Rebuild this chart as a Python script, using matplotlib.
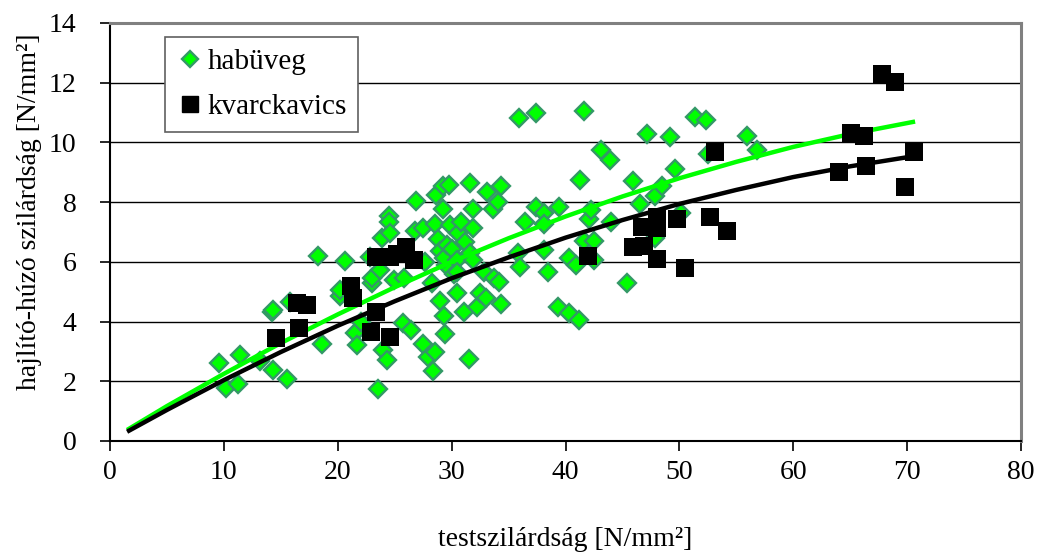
import matplotlib
matplotlib.use("Agg")
import matplotlib.pyplot as plt
from matplotlib.lines import Line2D

# ---------------- data ----------------
hab_x = [9.6, 10.2, 11.2, 11.4, 13.2, 14.2, 14.3, 14.3, 15.5, 15.8, 18.3, 18.6,
         20.2, 20.2, 20.6, 21.5, 21.7, 22.0, 22.8, 23.0, 23.0, 23.5, 23.7, 23.9,
         24.0, 24.3, 24.5, 24.5, 24.6, 24.9, 25.7, 26.4, 25.8, 26.9, 26.8, 27.5,
         27.5, 27.9, 28.5, 28.4, 28.3, 27.7, 28.6, 28.5, 28.8, 29.0, 29.2, 29.2,
         29.4, 29.3, 29.0, 29.5, 29.3, 29.6, 29.8, 29.9, 30.0, 30.2, 30.5, 30.5,
         30.5, 30.6, 30.8, 31.1, 31.2, 31.5, 31.6, 31.6, 31.9, 31.9, 31.9, 32.2,
         32.5, 32.8, 33.0, 33.1, 33.6, 33.7, 34.1, 34.2, 34.3, 34.3, 35.8, 35.9,
         36.0, 36.4, 37.4, 37.4, 38.1, 38.1, 38.1, 38.5, 39.3, 39.4, 40.3, 40.3,
         40.9, 41.2, 41.3, 41.6, 41.6, 42.1, 42.2, 42.5, 42.5, 43.1, 43.9, 44.0,
         45.4, 45.9, 46.5, 47.2, 47.9, 47.9, 48.5, 49.2, 49.6, 50.1, 51.4, 52.3,
         52.5, 55.9, 56.8]
hab_y = [2.60, 1.78, 1.91, 2.88, 2.68, 4.32, 4.40, 2.38, 2.07, 4.67, 6.20, 3.25,
         4.85, 5.06, 6.04, 3.61, 3.21, 4.00, 6.17, 5.28, 5.45, 1.75, 5.73, 6.79,
         3.05, 2.72, 7.52, 7.34, 6.95, 5.40, 3.94, 3.73, 5.45, 8.05, 7.05, 7.12,
         3.25, 2.82, 2.99, 2.34, 5.28, 6.00, 8.25, 7.26, 6.75, 6.35, 8.55, 7.76,
         3.58, 4.20, 4.70, 5.89, 6.12, 6.56, 8.57, 7.23, 6.42, 5.60, 4.95, 6.06,
         5.67, 6.98, 7.34, 4.32, 6.65, 2.74, 8.65, 6.28, 7.14, 7.78, 6.06, 4.50,
         4.95, 5.67, 4.80, 8.35, 7.78, 5.45, 8.01, 5.33, 8.54, 4.58, 6.28, 10.81,
         5.83, 7.34, 11.00, 7.84, 7.62, 7.27, 6.40, 5.66, 4.50, 7.84, 6.14, 4.28,
         5.89, 4.05, 8.74, 11.05, 6.70, 7.45, 7.74, 6.70, 6.06, 9.75, 9.40, 7.33,
         5.28, 8.72, 7.95, 10.29, 8.19, 6.79, 8.55, 10.18, 9.12, 7.63, 10.84, 10.74,
         9.61, 10.21, 9.73]

kvarc_x = [14.6, 16.4, 17.3, 16.6, 21.2, 21.3, 22.9, 23.4, 24.6, 23.4, 24.6, 25.2,
           26.0, 26.7, 42.0, 45.9, 46.9, 46.7, 48.0, 48.0, 48.0, 49.8, 50.5, 52.7,
           53.1, 54.2, 64.0, 65.1, 66.2, 66.4, 67.8, 68.9, 69.8, 70.6]
kvarc_y = [3.44, 4.63, 4.56, 3.77, 5.20, 4.80, 3.66, 4.33, 3.49, 6.15, 6.15, 6.25,
           6.49, 6.06, 6.20, 6.51, 6.54, 7.18, 7.51, 7.12, 6.08, 7.43, 5.78, 7.49,
           9.69, 7.03, 9.00, 10.32, 10.21, 9.21, 12.29, 12.03, 8.52, 9.69]

# trend lines
hab_trend_x = [1.5, 5, 10, 15, 20, 25, 30, 35, 40, 45, 50, 55, 60, 65, 70.7]
hab_trend_y = [0.37, 1.17, 2.25, 3.28, 4.24, 5.15, 6.00, 6.79, 7.52, 8.19, 8.80,
               9.35, 9.85, 10.28, 10.70]
kvarc_trend_x = [1.5, 5, 10, 15, 20, 25, 30, 35, 40, 45, 50, 55, 60, 65, 70.6]
kvarc_trend_y = [0.31, 1.04, 2.04, 2.98, 3.86, 4.68, 5.45, 6.15, 6.81, 7.40, 7.94,
                 8.41, 8.84, 9.20, 9.54]

labels = ["habüveg", "kvarckavics"]
x_ticks = [0, 10, 20, 30, 40, 50, 60, 70, 80]
y_ticks = [0, 2, 4, 6, 8, 10, 12, 14]
x_label = "testszilárdság [N/mm²]"
y_label = "hajlító-húzó szilárdság [N/mm²]"

# ---------------- style ----------------
plt.rcParams['font.family'] = ['Liberation Serif', 'DejaVu Serif']
FS = 20
GREEN = '#00FF00'
GREEN_EDGE = '#339966'

fig = plt.figure(figsize=(10.39, 5.56), dpi=100)
ax = fig.add_axes([110 / 1039, 1 - 441 / 556, 911 / 1039, 418 / 556])

ax.set_xlim(0, 80)
ax.set_ylim(0, 14)

for yv in y_ticks[1:-1]:
    ax.axhline(yv, color='black', lw=1.0, zorder=1)

ax.plot(hab_x, hab_y, linestyle='none', marker='D', ms=9.2, mfc=GREEN,
        mec=GREEN_EDGE, mew=1.7, zorder=2)
ax.plot(hab_trend_x, hab_trend_y, color=GREEN, lw=3.2, zorder=3,
        solid_capstyle='butt')
ax.plot(kvarc_trend_x, kvarc_trend_y, color='black', lw=3.2, zorder=3,
        solid_capstyle='butt')
ax.plot(kvarc_x, kvarc_y, linestyle='none', marker='s', ms=13, mfc='black',
        mec='black', mew=0, zorder=4)

ax.set_xticks(x_ticks)
ax.set_yticks(y_ticks)
ax.set_xticklabels([str(v) for v in x_ticks], fontsize=FS)
ax.set_yticklabels([str(v) for v in y_ticks], fontsize=FS)
ax.tick_params(axis='x', direction='out', length=7, width=1.2, pad=7,
               colors='black')
ax.tick_params(axis='y', direction='out', length=7, width=1.2, pad=17,
               colors='black')

for side in ['left', 'bottom']:
    ax.spines[side].set_color('black')
    ax.spines[side].set_linewidth(1.5)
for side in ['top', 'right']:
    ax.spines[side].set_color('#808080')
    ax.spines[side].set_linewidth(2.2)

fig.text(565 / 1039, 1 - 540 / 556, x_label, fontsize=FS, ha='center',
         va='center')
fig.text(30 / 1039, 1 - 212 / 556, y_label, fontsize=FS, rotation=90,
         ha='center', va='center')

handles = [
    Line2D([], [], linestyle='none', marker='D', ms=8.5, mfc=GREEN,
           mec=GREEN_EDGE, mew=1.7),
    Line2D([], [], linestyle='none', marker='s', ms=12, mfc='black',
           mec='black'),
]
leg = ax.legend(handles, labels, loc='upper left',
                bbox_to_anchor=((165 - 110) / 911, (441 - 37) / 418),
                fontsize=FS + 1, frameon=True, fancybox=False,
                edgecolor='#606060', framealpha=1, borderpad=0.4,
                handlelength=0.9, handletextpad=0.15, labelspacing=0.65,
                borderaxespad=0)
leg.get_frame().set_linewidth(1.2)
leg.set_zorder(6)

fig.savefig('out.png', dpi=100)
